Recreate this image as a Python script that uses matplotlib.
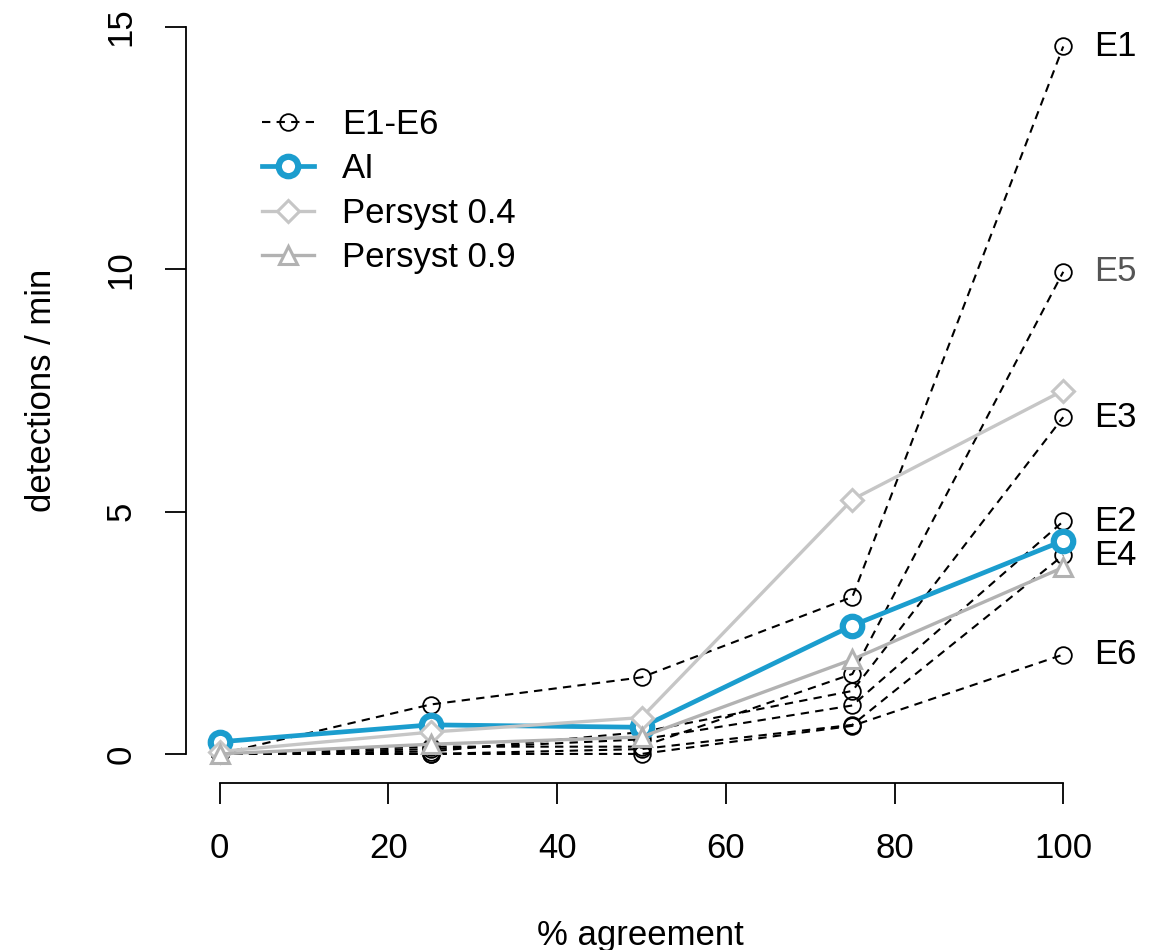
import matplotlib
matplotlib.use("Agg")
import matplotlib.pyplot as plt
import numpy as np

plt.rcParams['font.family'] = ['Liberation Sans', 'DejaVu Sans']

# % agreement levels
agreement = [0, 25, 50, 75, 100]

# detections per minute for each expert
experts = ['E1', 'E2', 'E3', 'E4', 'E5', 'E6']
e1 = [0, 1.02, 1.58, 3.24, 14.6]
e2 = [0, 0.10, 0.30, 1.00, 4.80]
e3 = [0, 0.05, 0.45, 1.30, 6.95]
e4 = [0, 0.00, 0.10, 0.60, 4.10]
e5 = [0, 0.15, 0.15, 1.65, 9.95]
e6 = [0, 0.00, 0.00, 0.58, 2.05]
expert_vals = [e1, e2, e3, e4, e5, e6]

ai = [0.25, 0.60, 0.55, 2.65, 4.40]
persyst04 = [0.05, 0.45, 0.75, 5.25, 7.50]
persyst09 = [0.00, 0.20, 0.35, 1.95, 3.85]

label_colors = ['black', 'black', 'black', 'black', '#555555', 'black']

blue = '#1B9DCE'
grey04 = '#C6C6C6'
grey09 = '#B2B2B2'

exp_style = dict(color='black', lw=1.5, dashes=(4, 3), marker='o', ms=12,
                 mfc='none', mec='black', mew=1.3)
ai_style = dict(color=blue, lw=3.4, marker='o', ms=14, mfc='white', mec=blue, mew=4.5)
p04_style = dict(color=grey04, lw=2.4, marker='D', ms=11, mfc='white', mec=grey04, mew=2.2)
p09_style = dict(color=grey09, lw=2.4, marker='^', ms=13.5, mfc='white', mec=grey09, mew=2.2)

fig = plt.figure(figsize=(11.56, 9.5), dpi=100)
ax = fig.add_axes([186 / 1156, 1 - 783 / 950, (1097 - 186) / 1156, (783 + 2) / 950])

for vals in expert_vals:
    ax.plot(agreement, vals, **exp_style)

ax.plot(agreement, ai, zorder=4, **ai_style)
ax.plot(agreement, persyst04, zorder=5, **p04_style)
ax.plot(agreement, persyst09, zorder=5, **p09_style)

for name, vals, c in zip(experts, expert_vals, label_colors):
    ax.text(103.6, vals[-1], name, fontsize=25, color=c, ha='left', va='center')

ax.set_xlim(-4, 104)
ax.set_ylim(-0.6, 15.6)

for s in ['top', 'right']:
    ax.spines[s].set_visible(False)
ax.spines['left'].set_bounds(0, 15)
ax.spines['bottom'].set_bounds(0, 100)
ax.spines['left'].set_linewidth(1.3)
ax.spines['bottom'].set_linewidth(1.3)

ax.set_xticks([0, 20, 40, 60, 80, 100])
ax.set_yticks([0, 5, 10, 15])
ax.tick_params(axis='both', direction='out', length=15, width=1.3, labelsize=25)
ax.tick_params(axis='x', pad=20)
ax.tick_params(axis='y', pad=20)
for lab in ax.get_yticklabels():
    lab.set_rotation(90)
    lab.set_va('center')

fig.text(640 / 1156, 1 - 935 / 950, '% agreement', fontsize=25, ha='center', va='center')
fig.text(42 / 1156, 1 - 390 / 950, 'detections / min', fontsize=25,
         ha='center', va='center', rotation=90)

h1, = ax.plot([], [], **exp_style)
h2, = ax.plot([], [], **ai_style)
h3, = ax.plot([], [], **p04_style)
h4, = ax.plot([], [], **p09_style)
ax.legend([h1, h2, h3, h4], ['E1-E6', 'AI', 'Persyst 0.4', 'Persyst 0.9'],
          loc='upper left', bbox_to_anchor=(262 / 1156, 1 - 108 / 950),
          bbox_transform=fig.transFigure, frameon=False, fontsize=25,
          handlelength=1.5, handletextpad=0.8, labelspacing=0.33, borderpad=0,
          borderaxespad=0)

fig.savefig('out.png', dpi=100)
